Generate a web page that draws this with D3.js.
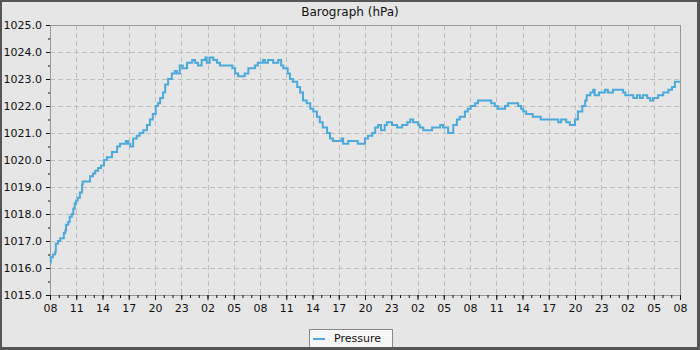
<!DOCTYPE html>
<html>
<head>
<meta charset="utf-8">
<script src="https://cdn.jsdelivr.net/npm/d3@7"></script>
<style>
  body { margin: 0; background: #e6e6e6; }
  svg { display: block; font-family: "DejaVu Sans", sans-serif; }
</style>
</head>
<body>
<div id="chart"></div>
<script>
// minutes after the first 08:00 reading
var minutes = [0, 5, 20, 35, 40, 55, 70, 95, 105, 110, 125, 135, 150, 160, 170, 180, 190, 205, 220, 225,
  275, 295, 310, 330, 350, 370, 390, 425, 460, 480, 520, 535, 550, 570, 595, 615, 640, 665, 685, 705,
  725, 740, 755, 775, 790, 810, 835, 855, 870, 890, 910, 940, 975, 995, 1015, 1040, 1065, 1075, 1095, 1120,
  1145, 1165, 1250, 1270, 1290, 1335, 1360, 1405, 1425, 1460, 1475, 1495, 1530, 1565, 1585, 1600, 1630, 1645, 1665, 1695,
  1715, 1735, 1760, 1785, 1805, 1830, 1850, 1870, 1900, 1920, 1940, 2000, 2010, 2045, 2110, 2160, 2180, 2210, 2230, 2250,
  2270, 2295, 2310, 2345, 2380, 2415, 2450, 2470, 2490, 2525, 2535, 2560, 2620, 2675, 2695, 2730, 2765, 2790, 2810, 2845,
  2865, 2885, 2915, 2935, 3025, 3050, 3070, 3120, 3140, 3210, 3230, 3245, 3265, 3310, 3365, 3485, 3505, 3540, 3565, 3600,
  3620, 3650, 3670, 3680, 3705, 3725, 3735, 3765, 3805, 3825, 3860, 3930, 3945, 4000, 4025, 4045, 4065, 4095, 4115, 4135,
  4170, 4205, 4240, 4265, 4285, 4320];
var pressure = [1016.2, 1016.4, 1016.5, 1016.6, 1016.9, 1017.0, 1017.1, 1017.3, 1017.4, 1017.6, 1017.7, 1017.9, 1018.0, 1018.2, 1018.4, 1018.5, 1018.6, 1018.8, 1019.1, 1019.2,
  1019.4, 1019.5, 1019.6, 1019.7, 1019.8, 1020.0, 1020.1, 1020.3, 1020.5, 1020.6, 1020.7, 1020.6, 1020.5, 1020.8, 1020.9, 1021.0, 1021.1, 1021.3, 1021.5, 1021.7,
  1022.0, 1022.1, 1022.3, 1022.5, 1022.8, 1023.0, 1023.2, 1023.3, 1023.2, 1023.5, 1023.4, 1023.6, 1023.7, 1023.6, 1023.5, 1023.7, 1023.8, 1023.6, 1023.8, 1023.7,
  1023.6, 1023.5, 1023.4, 1023.2, 1023.1, 1023.2, 1023.4, 1023.5, 1023.6, 1023.7, 1023.6, 1023.7, 1023.6, 1023.7, 1023.5, 1023.4, 1023.2, 1023.0, 1022.9, 1022.7,
  1022.5, 1022.2, 1022.1, 1021.9, 1021.8, 1021.6, 1021.4, 1021.2, 1021.0, 1020.8, 1020.7, 1020.8, 1020.6, 1020.7, 1020.6, 1020.8, 1020.9, 1021.0, 1021.2, 1021.3,
  1021.1, 1021.3, 1021.4, 1021.3, 1021.2, 1021.3, 1021.4, 1021.5, 1021.4, 1021.3, 1021.2, 1021.1, 1021.2, 1021.3, 1021.2, 1021.0, 1021.3, 1021.5, 1021.6, 1021.8,
  1021.9, 1022.0, 1022.1, 1022.2, 1022.1, 1022.0, 1021.9, 1022.0, 1022.1, 1022.0, 1021.9, 1021.8, 1021.7, 1021.6, 1021.5, 1021.4, 1021.5, 1021.4, 1021.3, 1021.5,
  1021.8, 1022.0, 1022.2, 1022.4, 1022.5, 1022.6, 1022.4, 1022.5, 1022.6, 1022.5, 1022.6, 1022.5, 1022.4, 1022.3, 1022.4, 1022.3, 1022.4, 1022.3, 1022.2, 1022.3,
  1022.4, 1022.5, 1022.6, 1022.7, 1022.9, 1022.9];
var yTicks = [1015, 1016, 1017, 1018, 1019, 1020, 1021, 1022, 1023, 1024, 1025];
var seriesName = "Pressure";
var title = "Barograph (hPa)";

var W = 700, H = 350;
var margin = {top: 25, right: 20, bottom: 55, left: 50};
var pw = W - margin.left - margin.right, ph = H - margin.top - margin.bottom;

var t0 = new Date(2024, 0, 1, 8, 0, 0);
var data = minutes.map(function (m, i) {
  return {t: new Date(t0.getTime() + m * 60000), v: pressure[i]};
});

var svg = d3.select("#chart").append("svg").attr("width", W).attr("height", H);
svg.append("rect").attr("width", W).attr("height", H).attr("fill", "#e6e6e6");

var x = d3.scaleTime().domain([t0, new Date(t0.getTime() + 72 * 3600000)]).range([0, pw]);
var y = d3.scaleLinear().domain([1015, 1025]).range([ph, 0]);

var majorX = d3.range(0, 73, 3).map(function (h) { return new Date(t0.getTime() + h * 3600000); });
var minorX = d3.range(0, 73, 1).map(function (h) { return new Date(t0.getTime() + h * 3600000); });
var minorY = d3.range(1015, 1025.01, 0.5);

svg.append("text").attr("x", W / 2).attr("y", 16).attr("text-anchor", "middle")
  .attr("font-size", 12).attr("fill", "#111").text(title);

var g = svg.append("g").attr("transform", "translate(" + margin.left + "," + margin.top + ")");

// grid
g.append("g").selectAll("line").data(majorX.slice(1, -1)).enter().append("line")
  .attr("x1", function (d) { return Math.round(x(d)) + 0.5; })
  .attr("x2", function (d) { return Math.round(x(d)) + 0.5; })
  .attr("y1", 0).attr("y2", ph)
  .attr("stroke", "#bdbdbd").attr("stroke-dasharray", "5,3");
g.append("g").selectAll("line").data(yTicks.slice(1, -1)).enter().append("line")
  .attr("y1", function (d) { return Math.round(y(d)) + 0.5; })
  .attr("y2", function (d) { return Math.round(y(d)) + 0.5; })
  .attr("x1", 0).attr("x2", pw)
  .attr("stroke", "#bdbdbd").attr("stroke-dasharray", "5,3");

// frame
g.append("rect").attr("x", 0.5).attr("y", 0.5).attr("width", pw).attr("height", ph)
  .attr("fill", "none").attr("stroke", "#999");

// minor ticks
g.append("g").attr("transform", "translate(0," + ph + ")")
  .call(d3.axisBottom(x).tickValues(minorX).tickSize(3).tickFormat(""))
  .call(function (a) { a.select(".domain").remove(); a.selectAll("line").attr("stroke", "#111"); });
g.append("g")
  .call(d3.axisLeft(y).tickValues(minorY).tickSize(2).tickFormat(""))
  .call(function (a) { a.select(".domain").remove(); a.selectAll("line").attr("stroke", "#111"); });

// major axes
var xAxis = g.append("g").attr("transform", "translate(0," + ph + ")")
  .call(d3.axisBottom(x).tickValues(majorX).tickSize(5).tickPadding(4).tickFormat(d3.timeFormat("%H")));
xAxis.select(".domain").remove();
xAxis.selectAll("line").attr("stroke", "#111");
xAxis.selectAll("text").attr("font-size", 11).attr("fill", "#111").attr("font-family", "DejaVu Sans");

var yAxis = g.append("g")
  .call(d3.axisLeft(y).tickValues(yTicks).tickSize(4).tickPadding(4).tickFormat(d3.format(".1f")));
yAxis.select(".domain").remove();
yAxis.selectAll("line").attr("stroke", "#111");
yAxis.selectAll("text").attr("font-size", 11).attr("fill", "#111").attr("font-family", "DejaVu Sans");

// line
var line = d3.line().curve(d3.curveStepAfter)
  .x(function (d) { return x(d.t); })
  .y(function (d) { return y(d.v); });
g.append("path").datum(data).attr("d", line)
  .attr("fill", "none").attr("stroke", "#4ba9db").attr("stroke-width", 2);

// legend
var lg = svg.append("g").attr("transform", "translate(309,329)");
lg.append("rect").attr("x", 0.5).attr("y", 0.5).attr("width", 83).attr("height", 24)
  .attr("fill", "#f7f7f7").attr("stroke", "#888");
lg.append("line").attr("x1", 4).attr("x2", 16).attr("y1", 10).attr("y2", 10)
  .attr("stroke", "#4ba9db").attr("stroke-width", 2);
lg.append("text").attr("x", 25).attr("y", 13).attr("font-size", 11).attr("fill", "#111").text(seriesName);

// outer border
svg.append("rect").attr("x", 1).attr("y", 1).attr("width", W - 2.5).attr("height", H - 2.5)
  .attr("fill", "none").attr("stroke", "#555").attr("stroke-width", 2);
svg.append("rect").attr("x", W - 3).attr("y", 0).attr("width", 3).attr("height", H).attr("fill", "#555");
svg.append("rect").attr("x", 0).attr("y", H - 3).attr("width", W).attr("height", 3).attr("fill", "#555");
</script>
</body>
</html>
